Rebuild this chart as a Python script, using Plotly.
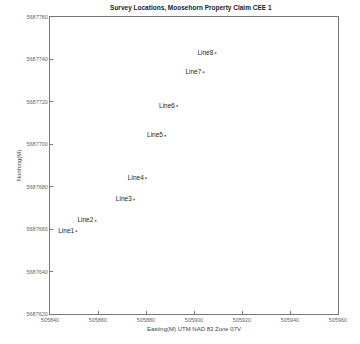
import plotly.graph_objects as go

# Survey line start points (UTM NAD 83, Zone 07V)
line_names = ["Line1", "Line2", "Line3", "Line4", "Line5", "Line6", "Line7", "Line8"]
easting = [505851, 505859, 505875, 505880, 505888, 505893, 505904, 505909]
northing = [5687659, 5687664, 5687674, 5687684, 5687704, 5687718, 5687734, 5687743]

x_ticks = [505840, 505860, 505880, 505900, 505920, 505940, 505960]
y_ticks = [5687620, 5687640, 5687660, 5687680, 5687700, 5687720, 5687740, 5687760]

FONT = "Liberation Sans, Arial, sans-serif"

fig = go.Figure()
fig.add_trace(go.Scatter(
    x=easting, y=northing,
    mode="markers+text",
    text=line_names,
    textposition="middle left",
    textfont=dict(family=FONT, size=6.5, color="#222"),
    marker=dict(size=2, color="#777", symbol="circle"),
    showlegend=False,
    cliponaxis=False,
))

axis_common = dict(
    showgrid=False, zeroline=False,
    showline=True, linecolor="#777", linewidth=1, mirror=True,
    ticks="inside", ticklen=3, tickcolor="#777",
    tickfont=dict(family=FONT, size=5.5, color="#666"),
)

fig.update_layout(
    width=360, height=344,
    margin=dict(l=50, r=22, t=17, b=27),
    paper_bgcolor="white", plot_bgcolor="white",
    title=dict(
        text="<b>Survey Locations, Moosehorn Property Claim CEE 1</b>",
        x=0.53, xanchor="center", y=0.985, yanchor="top",
        font=dict(family=FONT, size=6.5, color="#222"),
    ),
    xaxis=dict(
        range=[x_ticks[0], x_ticks[-1]], tickvals=x_ticks,
        ticktext=[str(v) for v in x_ticks],
        title=dict(text="Easting(M) UTM NAD 83 Zone 07V", standoff=5,
                   font=dict(family=FONT, size=6, color="#444")),
        **axis_common,
    ),
    yaxis=dict(
        range=[y_ticks[0], y_ticks[-1]], tickvals=y_ticks,
        ticktext=[str(v) for v in y_ticks],
        title=dict(text="Northing(M)", standoff=4,
                   font=dict(family=FONT, size=6, color="#444")),
        **axis_common,
    ),
)

fig.write_html("out.html")
